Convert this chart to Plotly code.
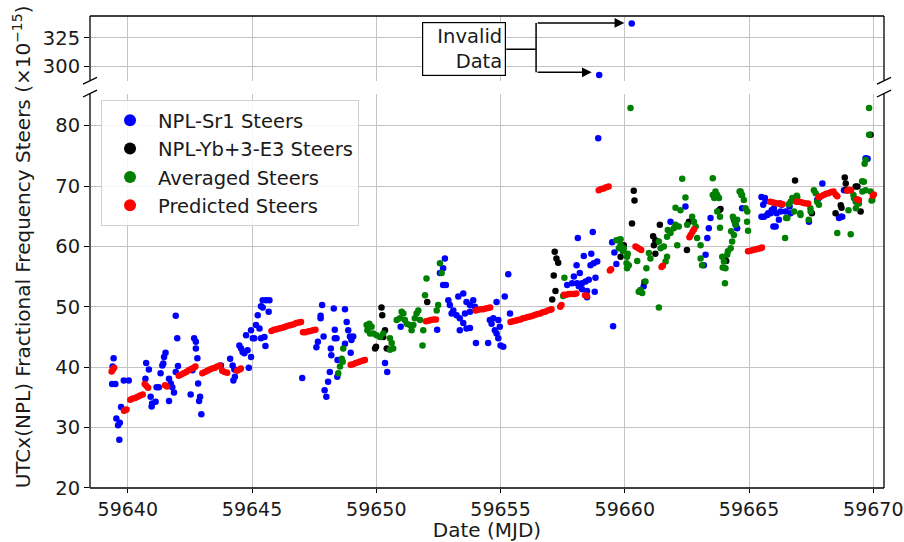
import plotly.graph_objects as go

# ---------------- data ----------------
# NPL-Sr1 steers (MJD, fractional frequency steer x1e-15)
sr1_mjd = [59639.37, 59639.39, 59639.43, 59639.50, 59639.54, 59639.61, 59639.66, 59639.68, 59639.73, 59639.84,
           59640.04, 59640.71, 59640.74, 59640.85, 59640.92, 59640.96, 59640.98, 59641.12, 59641.16, 59641.25,
           59641.32, 59641.39, 59641.43, 59641.46, 59641.52, 59641.66, 59641.66, 59641.73, 59641.79, 59641.86,
           59641.93, 59641.93, 59641.99, 59642.02, 59642.53, 59642.60, 59642.67, 59642.74, 59642.74, 59642.80,
           59642.83, 59642.87, 59642.91, 59642.96, 59643.75, 59644.12, 59644.22, 59644.25, 59644.29, 59644.31,
           59644.49, 59644.56, 59644.62, 59644.69, 59644.76, 59644.82, 59644.87, 59644.96, 59644.96, 59645.03,
           59645.09, 59645.16, 59645.23, 59645.30, 59645.36, 59645.36, 59645.43, 59645.43, 59645.50, 59645.54,
           59645.57, 59645.67, 59645.70, 59647.02, 59647.59, 59647.65, 59647.76, 59647.76, 59647.82, 59647.88,
           59647.92, 59647.99, 59648.06, 59648.13, 59648.17, 59648.19, 59648.29, 59648.33, 59648.33, 59648.40,
           59648.43, 59648.44, 59648.74, 59648.74, 59648.81, 59648.87, 59648.94, 59648.97, 59649.00, 59649.07,
           59650.35, 59650.44, 59650.98, 59652.45, 59652.56, 59652.69, 59652.69, 59652.76, 59652.80, 59652.90,
           59652.96, 59653.03, 59653.10, 59653.23, 59653.30, 59653.36, 59653.36, 59653.50, 59653.50, 59653.57,
           59653.63, 59653.63, 59653.77, 59653.77, 59653.77, 59653.90, 59653.97, 59654.01, 59654.50, 59654.57,
           59654.64, 59654.71, 59654.77, 59654.84, 59654.84, 59654.91, 59654.91, 59654.97, 59655.00, 59655.11,
           59655.17, 59655.31, 59655.38, 59657.68, 59657.88, 59657.95, 59658.06, 59658.08, 59658.11, 59658.15,
           59658.19, 59658.28, 59658.28, 59658.35, 59658.42, 59658.48, 59658.48, 59658.55, 59658.62, 59658.65,
           59658.71, 59658.75, 59658.79, 59658.82, 59658.89, 59658.93, 59659.49, 59659.53, 59659.58, 59659.66,
           59660.76, 59661.84, 59662.44, 59663.18, 59663.25, 59663.32, 59663.38, 59663.45, 59664.39, 59664.46,
           59664.52, 59664.72, 59665.50, 59665.50, 59665.57, 59665.60, 59665.64, 59665.66, 59665.73, 59665.77,
           59665.87, 59665.91, 59665.98, 59666.00, 59666.07, 59666.11, 59666.20, 59666.25, 59666.27, 59666.31,
           59666.47, 59666.63, 59666.67, 59667.41, 59667.74, 59667.81, 59667.95, 59668.62, 59668.69, 59668.75,
           59668.82, 59669.02, 59669.69, 59669.77,
           59658.97, 59660.28]
sr1_val = [37.2, 40.1, 41.5, 37.2, 31.5, 30.4, 28.0, 30.8, 33.4, 37.8,
           37.8, 38.1, 40.7, 39.6, 35.1, 33.5, 34.0, 34.3, 36.7, 36.7,
           39.0, 40.3, 40.6, 41.7, 42.4, 38.1, 34.4, 37.3, 36.7, 35.8,
           48.5, 39.2, 44.8, 40.2, 35.5, 39.5, 44.8, 44.2, 43.1, 41.5,
           37.3, 34.4, 35.1, 32.2, 40.3, 41.4, 40.3, 37.8, 39.6, 38.4,
           43.6, 43.1, 42.5, 42.3, 45.3, 42.8, 39.9, 41.7, 46.1, 44.8,
           44.8, 47.0, 48.6, 46.4, 50.1, 44.8, 51.1, 49.9, 45.0, 43.5,
           51.1, 49.2, 51.1, 38.2, 43.3, 44.2, 48.5, 48.1, 50.3, 45.1,
           36.2, 35.1, 37.6, 39.2, 43.1, 42.0, 49.7, 46.2, 44.8, 44.8,
           38.4, 41.2, 49.6, 43.9, 47.5, 46.1, 45.1, 42.4, 44.5, 45.1,
           40.7, 39.2, 46.7, 46.2, 55.6, 56.4, 53.6, 58.0, 53.6, 51.1,
           50.3, 48.9, 49.4, 48.6, 51.7, 48.1, 46.1, 52.2, 47.3, 48.9,
           50.8, 46.4, 50.3, 49.2, 46.5, 51.1, 50.0, 44.0, 44.0, 47.8,
           47.2, 48.1, 46.1, 50.8, 45.6, 47.8, 44.8, 46.7, 43.6, 43.4,
           51.7, 55.4, 48.9, 53.6, 53.9, 55.0, 56.9, 53.9, 61.4, 53.4,
           55.6, 53.9, 52.9, 58.4, 54.2, 52.6, 51.6, 54.5, 56.9, 58.8,
           62.4, 57.2, 52.5, 54.8, 57.5, 77.9, 60.7, 46.8, 59.0, 57.1,
           53.4, 64.1, 66.6, 56.9, 58.6, 61.4, 63.0, 64.7, 64.4, 63.6,
           63.0, 66.3, 68.2, 64.9, 66.9, 64.9, 68.0, 67.5, 65.2, 65.5,
           65.5, 66.0, 63.3, 66.3, 63.3, 65.5, 64.4, 67.1, 65.8, 66.9,
           65.8, 66.6, 65.5, 64.1, 67.7, 68.0, 70.4, 64.7, 64.9, 64.9,
           69.3, 69.3, 74.6, 74.5,
           292.0, 337.9]

# NPL-Yb+3-E3 steers
yb_mjd = [59649.95, 59649.99, 59650.21, 59650.24, 59650.28, 59650.35, 59650.42, 59652.05, 59657.08, 59657.14,
          59657.18, 59657.21, 59657.25, 59657.32, 59659.83, 59659.96, 59660.29, 59660.36, 59660.39, 59660.79,
          59661.14, 59661.17, 59661.23, 59661.23, 59661.30, 59661.41, 59662.50, 59662.58, 59663.80, 59663.85,
          59664.00, 59664.08, 59666.85, 59667.53, 59668.48, 59668.69, 59668.72, 59668.85, 59668.89, 59668.90,
          59669.29, 59669.36, 59669.49, 59669.89]
yb_val = [43.1, 43.4, 49.9, 48.6, 45.0, 46.1, 43.1, 50.8, 51.2, 55.2,
          59.1, 52.6, 58.0, 57.3, 58.3, 60.2, 63.8, 69.2, 67.6, 54.1,
          61.7, 60.2, 61.0, 58.8, 60.8, 63.6, 59.4, 64.1, 66.0, 66.2,
          57.8, 57.6, 70.9, 65.5, 65.5, 66.8, 66.4, 71.4, 70.4, 69.4,
          69.9, 69.9, 65.8, 78.5]

# Averaged steers
avg_mjd = [59648.47, 59648.54, 59648.61, 59648.65, 59648.67, 59649.61, 59649.64, 59649.72, 59649.75, 59649.81,
           59649.88, 59650.01, 59650.15, 59650.28, 59650.55, 59650.55, 59650.62, 59650.68, 59650.82, 59650.95,
           59651.02, 59651.09, 59651.15, 59651.22, 59651.35, 59651.42, 59651.49, 59651.55, 59651.62, 59651.69,
           59651.76, 59651.86, 59651.89, 59651.96, 59652.02, 59652.43, 59652.49, 59652.56, 59652.63, 59657.52,
           59657.57, 59659.66, 59659.76, 59659.76, 59659.83, 59659.83, 59659.93, 59659.96, 59660.07, 59660.09,
           59660.09, 59660.12, 59660.16, 59660.23, 59660.50, 59660.56, 59660.63, 59660.70, 59660.83, 59660.87,
           59660.97, 59661.03, 59661.37, 59661.37, 59661.44, 59661.57, 59661.64, 59661.70, 59661.70, 59661.73,
           59661.84, 59661.97, 59662.04, 59662.04, 59662.11, 59662.17, 59662.24, 59662.31, 59662.44, 59662.51,
           59662.71, 59662.78, 59662.85, 59662.91, 59663.05, 59663.05, 59663.11, 59663.54, 59663.54, 59663.60,
           59663.65, 59663.72, 59663.72, 59663.79, 59663.83, 59663.83, 59663.92, 59663.94, 59663.99, 59664.03,
           59664.05, 59664.12, 59664.15, 59664.26, 59664.28, 59664.32, 59664.35, 59664.39, 59664.42, 59664.46,
           59664.52, 59664.62, 59664.66, 59664.69, 59664.72, 59664.79, 59664.86, 59664.92, 59664.93, 59664.96,
           59666.45, 59666.49, 59666.54, 59666.60, 59666.67, 59666.74, 59666.81, 59666.92, 59666.94, 59667.06,
           59667.07, 59667.40, 59667.47, 59667.48, 59667.61, 59667.68, 59667.74, 59667.81, 59668.55, 59669.00,
           59669.09, 59669.20, 59669.22, 59669.29, 59669.30, 59669.42, 59669.55, 59669.56, 59669.62, 59669.65,
           59669.69, 59669.69, 59669.83, 59669.83, 59669.89, 59669.93, 59669.96]
avg_val = [39.0, 40.1, 41.4, 40.9, 43.1, 47.0, 46.1, 47.2, 45.6, 46.7,
           45.6, 45.3, 45.0, 45.6, 44.8, 42.9, 44.0, 43.1, 47.8, 48.1,
           49.2, 48.9, 47.8, 47.2, 47.0, 46.1, 47.0, 48.1, 48.9, 49.4,
           47.8, 43.6, 46.1, 51.9, 54.7, 49.4, 50.3, 57.2, 55.6, 51.8,
           54.8, 61.0, 61.1, 59.7, 61.2, 60.2, 59.2, 59.7, 57.2, 58.3,
           56.4, 58.8, 56.9, 82.9, 57.6, 52.5, 52.8, 52.3, 54.2, 56.4,
           58.9, 58.0, 60.8, 49.9, 59.7, 60.0, 57.5, 61.6, 58.3, 62.7,
           62.2, 63.0, 63.6, 66.4, 60.2, 63.3, 66.0, 71.2, 68.1, 63.6,
           64.9, 64.1, 63.3, 61.4, 60.2, 58.0, 56.9, 71.3, 68.5, 68.0,
           69.1, 68.5, 65.8, 68.0, 64.9, 63.1, 58.3, 56.5, 57.5, 53.9,
           56.4, 58.6, 59.2, 59.7, 62.5, 60.8, 64.9, 61.9, 64.1, 63.6,
           64.4, 69.1, 69.1, 68.5, 68.5, 67.7, 66.3, 64.1, 65.8, 62.6,
           61.4, 64.7, 64.7, 67.0, 67.4, 68.0, 65.8, 68.4, 68.2, 65.5,
           65.2, 64.4, 66.3, 65.8, 69.3, 68.8, 67.4, 66.9, 62.2, 66.0,
           62.0, 68.5, 68.0, 67.4, 66.3, 67.1, 70.8, 69.1, 70.7, 73.7,
           74.3, 69.3, 82.9, 78.5, 69.1, 67.6, 67.7]

# Predicted steers
pred_mjd = [59639.35, 59639.40, 59639.45, 59639.85, 59639.90, 59639.95,
            59640.10, 59640.20, 59640.30, 59640.40, 59640.50, 59640.60, 59640.68, 59640.75, 59640.82,
            59641.50, 59641.58,
            59642.05, 59642.15, 59642.25, 59642.35, 59642.45, 59642.55, 59642.65, 59642.72,
            59643.00, 59643.10, 59643.20, 59643.30, 59643.40, 59643.50, 59643.60, 59643.70,
            59643.80, 59643.90, 59644.00, 59644.40, 59644.50, 59644.55,
            59645.78, 59645.88, 59645.98, 59646.08, 59646.18, 59646.28, 59646.38, 59646.48, 59646.58, 59646.68,
            59646.78, 59646.88, 59646.97,
            59647.05, 59647.15, 59647.25, 59647.35, 59647.45, 59647.55,
            59648.97, 59649.07, 59649.17, 59649.27, 59649.37, 59649.47, 59649.54,
            59652.00, 59652.10, 59652.20, 59652.30, 59652.40,
            59654.00, 59654.10, 59654.20, 59654.30, 59654.40, 59654.50, 59654.58,
            59655.40, 59655.50, 59655.60, 59655.70, 59655.80, 59655.90, 59656.00, 59656.10, 59656.20, 59656.30,
            59656.40, 59656.50, 59656.60, 59656.70, 59656.80, 59656.90, 59657.00, 59657.05,
            59657.40, 59657.45,
            59657.55, 59657.65, 59657.75, 59657.85, 59657.95, 59658.05, 59658.40, 59658.48,
            59658.95, 59659.05, 59659.15, 59659.25, 59659.35, 59659.40, 59659.45,
            59660.43, 59660.50, 59660.58, 59660.66, 59661.48, 59661.53,
            59662.60, 59662.65, 59662.72, 59662.78,
            59664.96, 59665.06, 59665.16, 59665.26, 59665.36, 59665.46, 59665.52,
            59665.85, 59665.95, 59666.05, 59666.15, 59666.25, 59666.35,
            59666.90, 59667.00, 59667.10, 59667.20, 59667.30, 59667.38,
            59667.80, 59667.90, 59668.00, 59668.10, 59668.20, 59668.30, 59668.40, 59668.48, 59668.55,
            59668.95, 59669.02, 59669.10, 59669.35, 59669.42, 59669.98, 59670.02]
pred_val = [39.3, 39.6, 39.9, 32.8, 32.9, 33.0,
            34.6, 34.8, 34.9, 35.1, 35.3, 35.5, 37.2, 36.9, 36.6,
            37.0, 36.8,
            38.6, 38.8, 39.0, 39.2, 39.5, 39.7, 39.9, 40.1,
            39.0, 39.2, 39.4, 39.6, 39.8, 39.9, 40.1, 40.3,
            39.4, 39.2, 39.1, 39.4, 39.6, 39.8,
            46.0, 46.2, 46.3, 46.4, 46.5, 46.6, 46.8, 46.9, 47.0, 47.1,
            47.3, 47.4, 47.5,
            45.8, 45.8, 45.9, 46.0, 46.1, 46.2,
            40.4, 40.5, 40.7, 40.8, 41.0, 41.1, 41.2,
            47.6, 47.7, 47.8, 47.9, 47.9,
            49.4, 49.5, 49.6, 49.6, 49.7, 49.8, 49.9,
            47.5, 47.6, 47.7, 47.8, 47.9, 48.1, 48.2, 48.3, 48.4, 48.5,
            48.7, 48.8, 48.9, 49.1, 49.2, 49.4, 49.5, 49.6,
            50.0, 50.3,
            52.0, 52.0, 52.1, 52.1, 52.1, 52.2, 51.9, 51.8,
            69.3, 69.5, 69.6, 69.8, 69.9, 56.0, 56.2,
            60.0, 59.8, 59.6, 59.4, 56.6, 56.8,
            61.5, 61.9, 62.4, 62.8,
            59.2, 59.3, 59.4, 59.5, 59.6, 59.7, 59.8,
            67.4, 67.3, 67.2, 67.1, 67.1, 67.0,
            67.4, 67.4, 67.3, 67.2, 67.1, 67.1,
            68.2, 68.3, 68.5, 68.7, 68.8, 69.0, 69.1, 68.6, 68.3,
            69.2, 69.4, 69.3, 67.8, 67.7, 68.4, 68.6]

x_ticks = [59640, 59645, 59650, 59655, 59660, 59665, 59670]
y_ticks_low = [20, 30, 40, 50, 60, 70, 80]
y_ticks_high = [300, 325]

series = [
    ("NPL-Sr1 Steers", sr1_mjd, sr1_val, "#0000ff"),
    ("NPL-Yb+3-E3 Steers", yb_mjd, yb_val, "#000000"),
    ("Averaged Steers", avg_mjd, avg_val, "#008000"),
    ("Predicted Steers", pred_mjd, pred_val, "#ff0000"),
]

FONT = "DejaVu Sans"
GRID = "#c4c4c4"
X_RANGE = [59638.48, 59670.43]

fig = go.Figure()
for name, xs, ys, col in series:
    # lower (main) panel
    fig.add_trace(go.Scatter(x=xs, y=ys, mode="markers", name=name,
                             marker=dict(color=col, size=6.5, line=dict(width=0)),
                             xaxis="x", yaxis="y"))
    # upper (broken-axis) panel
    fig.add_trace(go.Scatter(x=xs, y=ys, mode="markers", name=name, showlegend=False,
                             marker=dict(color=col, size=6.5, line=dict(width=0)),
                             xaxis="x2", yaxis="y2"))

low_dom = [0.0, 0.8356]
high_dom = [0.8627, 1.0]

axis_common = dict(showgrid=True, gridcolor=GRID, gridwidth=1, zeroline=False, showline=False,
                   automargin=False,
                   ticks="outside", ticklen=5, tickwidth=1.2, tickcolor="black",
                   tickfont=dict(family=FONT, size=19.5, color="#1a1a1a"))
x_axis_style = dict(axis_common, ticklen=4, tickfont=dict(family=FONT, size=19, color="#1a1a1a"))

fig.update_layout(
    width=904, height=542,
    margin=dict(l=90, r=20, t=16, b=54),
    paper_bgcolor="white", plot_bgcolor="white",
    font=dict(family=FONT, color="#1a1a1a"),
    xaxis=dict(domain=[0, 1], anchor="y", range=X_RANGE, tickvals=x_ticks,
               ticktext=[str(t) for t in x_ticks], ticklabeloverflow="allow",
               title=dict(text="Date (MJD)", font=dict(family=FONT, size=20), standoff=7),
               **x_axis_style),
    xaxis2=dict(domain=[0, 1], anchor="y2", matches="x", range=X_RANGE, tickvals=x_ticks,
                automargin=False,
                showticklabels=False, showgrid=True, gridcolor=GRID, zeroline=False, ticks=""),
    yaxis=dict(domain=low_dom, anchor="x", range=[20, 85.3], tickvals=y_ticks_low, **axis_common),
    yaxis2=dict(domain=high_dom, anchor="x2", range=[286.8, 344.6], tickvals=y_ticks_high, **axis_common),
    showlegend=True,
    legend=dict(x=0.0139, y=0.822, xanchor="left", yanchor="top",
                bgcolor="rgba(255,255,255,0.85)", bordercolor="#d0d0d0", borderwidth=1,
                font=dict(family=FONT, size=19.5, color="#1a1a1a"),
                itemsizing="constant", itemwidth=46, tracegroupgap=0),
)

# axes frame: open between the two panels
spine = dict(color="black", width=1.3)
shapes = []
for yref, edge in (("y2 domain", 1), ("y domain", 0)):
    shapes.append(dict(type="line", xref="x domain", yref=yref, x0=0, x1=0, y0=0, y1=1, line=spine))
    shapes.append(dict(type="line", xref="x domain", yref=yref, x0=1, x1=1, y0=0, y1=1, line=spine))
    shapes.append(dict(type="line", xref="x domain", yref=yref, x0=0, x1=1, y0=edge, y1=edge, line=spine))

# diagonal break marks at both sides of the gap
for yref, yy in (("y2 domain", 0), ("y domain", 1)):
    for xx in (0, 1):
        shapes.append(dict(type="line", xref="x domain", yref=yref,
                           xsizemode="pixel", xanchor=xx, ysizemode="pixel", yanchor=yy,
                           x0=-7, x1=7, y0=-3.4, y1=3.4, line=dict(color="black", width=1.3)))

# "Invalid Data" callout
bad = [(m, v) for m, v in zip(sr1_mjd, sr1_val) if v > 200]
bad.sort(key=lambda p: p[1])
low_pt, high_pt = bad[0], bad[1]
box_x, box_y = 59653.53, 315.0
box_right = 59655.23
split_x = 59656.43
tip_gap = 0.3
arrow_low_y = low_pt[1] + 2.4
arrow_high_y = high_pt[1] + 0.5
callout = dict(color="black", width=1.5)
shapes.append(dict(type="line", xref="x2", yref="y2", x0=box_right, x1=split_x, y0=box_y, y1=box_y, line=callout))
shapes.append(dict(type="line", xref="x2", yref="y2", x0=split_x, x1=split_x,
                   y0=arrow_low_y, y1=arrow_high_y, line=callout))
fig.update_layout(shapes=shapes)

fig.add_annotation(x=box_x, y=box_y, xref="x2", yref="y2", text="Invalid<br>Data", showarrow=False,
                   align="right", width=76, height=46, borderpad=3, bordercolor="black", borderwidth=1.2,
                   bgcolor="white", font=dict(family=FONT, size=19.5, color="#1a1a1a"))
for pt, ay in ((low_pt, arrow_low_y), (high_pt, arrow_high_y)):
    fig.add_annotation(x=pt[0] - tip_gap, y=ay, xref="x2", yref="y2",
                       ax=split_x, ay=ay, axref="x2", ayref="y2", text="", showarrow=True,
                       arrowhead=2, arrowsize=1.3, arrowwidth=1.5, arrowcolor="black", standoff=0)

# shared y label spanning both panels
fig.add_annotation(x=-0.0856, y=0.51, xref="paper", yref="paper", textangle=-90, showarrow=False,
                   xanchor="center", yanchor="middle",
                   text="UTCx(NPL) Fractional Frequency Steers (×10<sup>−15</sup>)",
                   font=dict(family=FONT, size=20, color="#1a1a1a"))

fig.write_html("out.html")
